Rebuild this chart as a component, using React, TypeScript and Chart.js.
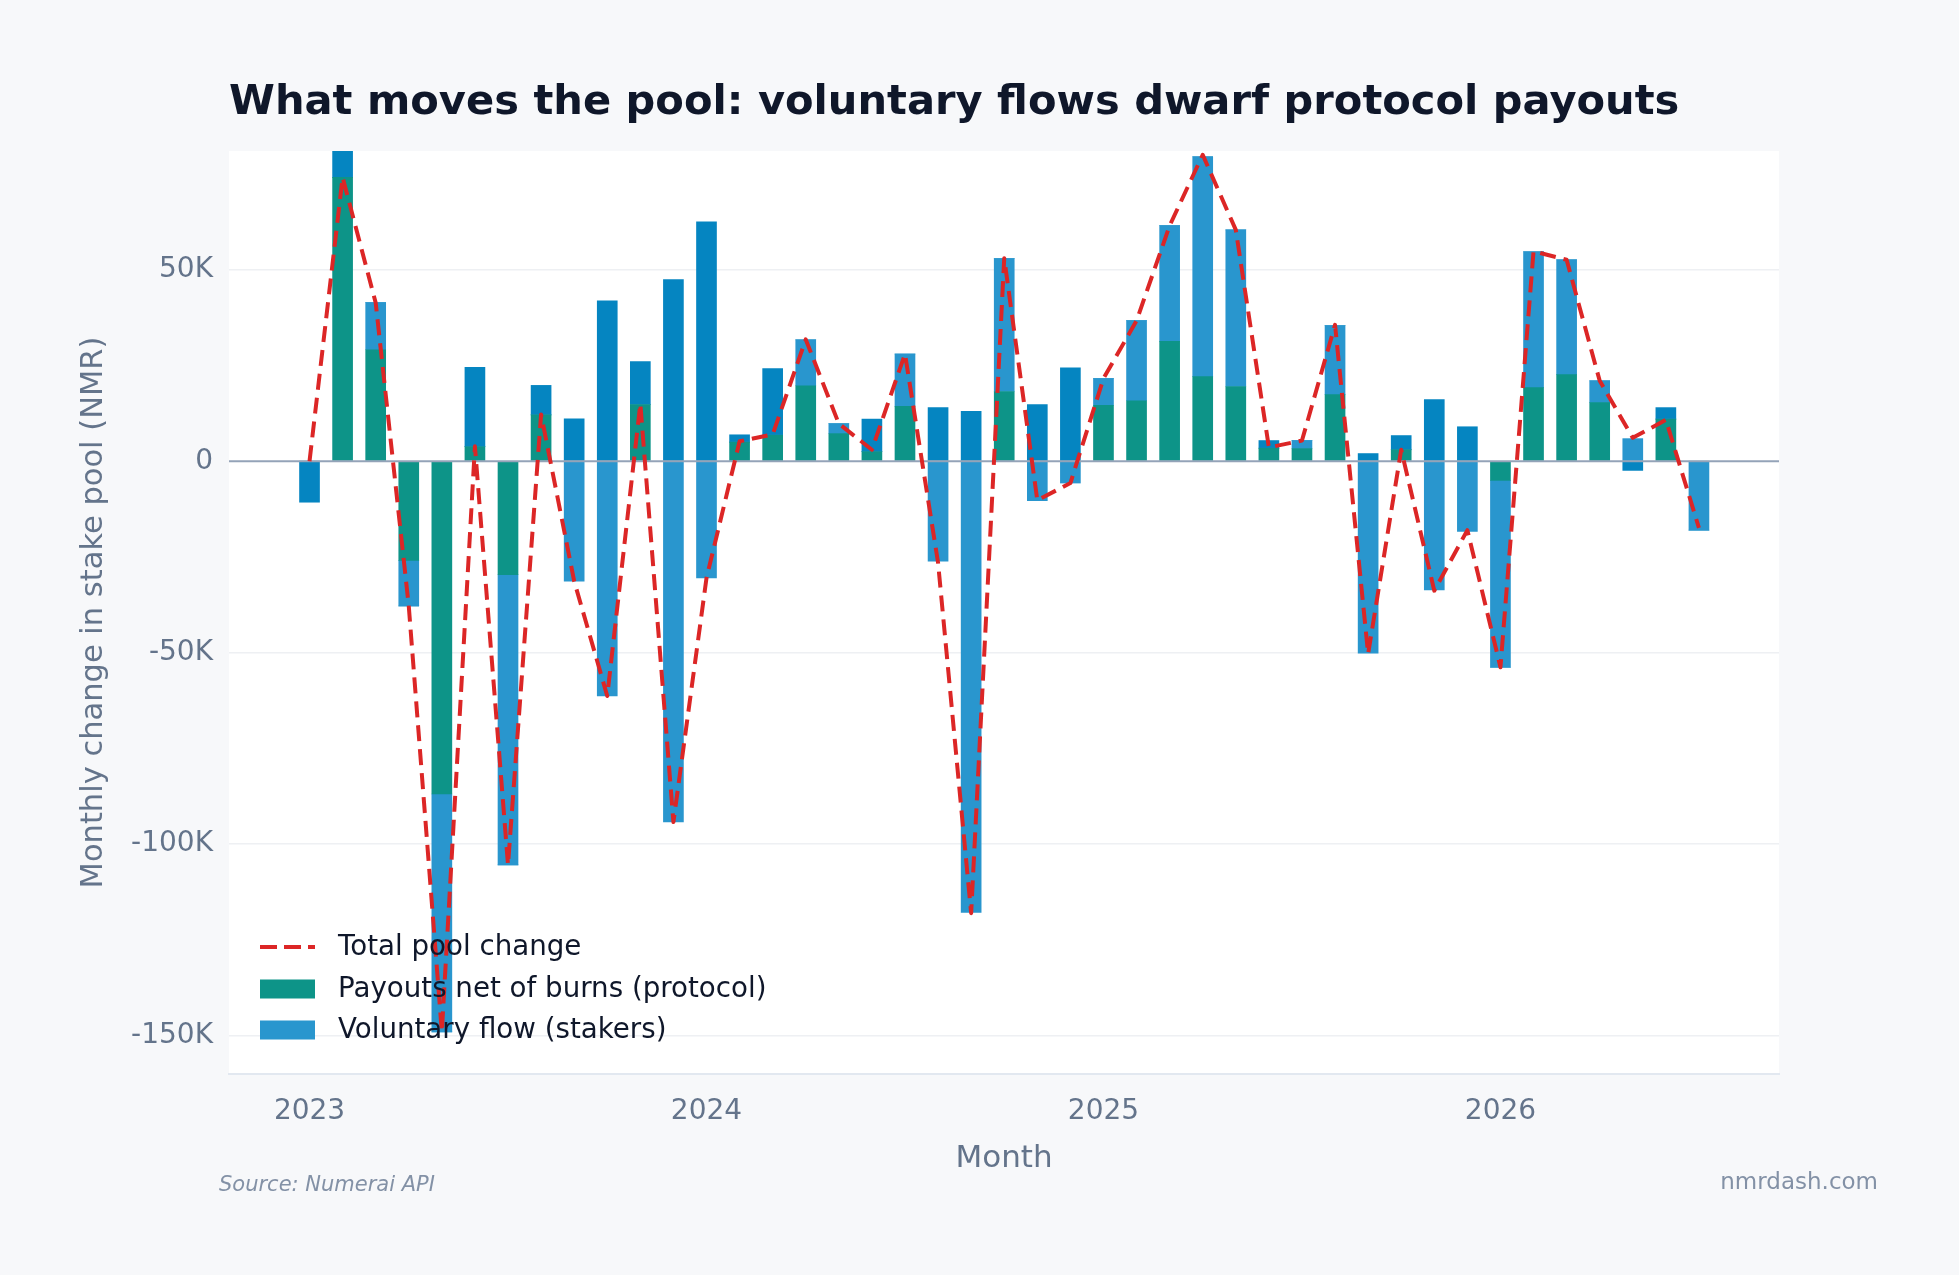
import React, { useEffect, useRef } from 'react';
import { Chart, registerables } from 'chart.js';

Chart.register(...registerables);

// ---- Data (values in thousands of NMR) ----
const months = [
  '2023-01', '2023-02', '2023-03', '2023-04', '2023-05', '2023-06', '2023-07', '2023-08', '2023-09', '2023-10', '2023-11', '2023-12',
  '2024-01', '2024-02', '2024-03', '2024-04', '2024-05', '2024-06', '2024-07', '2024-08', '2024-09', '2024-10', '2024-11', '2024-12',
  '2025-01', '2025-02', '2025-03', '2025-04', '2025-05', '2025-06', '2025-07', '2025-08', '2025-09', '2025-10', '2025-11', '2025-12',
  '2026-01', '2026-02', '2026-03', '2026-04', '2026-05', '2026-06', '2026-07',
];

const payoutsK = [
  0, 74.1, 29.1, -25.9, -86.9, 3.8, -29.6, 12.1, 0, 0, 14.8, 0,
  0, 5.0, 6.8, 19.7, 7.2, 2.5, 14.3, 0, 0, 18.2, 0, 0,
  14.6, 15.8, 31.3, 22.1, 19.5, 3.4, 3.3, 17.4, 0, 3.0, 0, 0,
  -5.0, 19.2, 22.6, 15.3, 0, 11.0, 0,
];

const voluntaryK = [
  0, 0, 12.3, -11.9, -62.1, 0, -75.8, 0, -31.3, -61.3, 0, -94.2,
  -30.5, 0, 0, 12.0, 2.6, 0, 13.7, -26.1, -117.8, 34.7, -10.3, -5.7,
  7.0, 20.9, 30.2, 57.4, 40.9, 0, 2.1, 18.0, -50.1, 0, -33.6, -18.3,
  -48.8, 35.5, 30.0, 5.7, 5.9, 0, -18.0,
];

const grossStakeK = [
  -10.7, 12.0, 0, 0, 0, 20.7, 0, 7.7, 11.1, 41.9, 11.2, 47.4,
  62.5, 1.9, 17.4, 0, 0, 8.5, 0, 14.0, 13.0, 0, 14.8, 24.4,
  0, 0, 0, 0, 0, 2.0, 0, 0, 2.0, 3.7, 16.1, 9.0,
  0, 0, 0, 0, -2.4, 3.0, 0,
];

const totalK = [
  0, 74.1, 41.4, -37.8, -149.0, 3.9, -105.4, 12.2, -31.3, -61.3, 15.0, -94.2,
  -30.5, 5.2, 7.0, 31.8, 9.8, 3.0, 28.0, -26.5, -118.0, 53.0, -10.2, -5.7,
  21.6, 36.7, 61.5, 80.0, 60.4, 3.6, 5.4, 35.6, -50.3, 3.0, -33.8, -18.0,
  -53.8, 54.8, 52.6, 21.0, 6.1, 10.8, -17.4,
];

const yTickValues = [-150000, -100000, -50000, 0, 50000];

const TITLE = 'What moves the pool: voluntary flows dwarf protocol payouts';
const SOURCE = 'Source: Numerai API';
const SITE = 'nmrdash.com';

const FONT = "'DejaVu Sans', 'Noto Sans', sans-serif";
const C_GREEN = '#0d9488';
const C_BLUE = '#2996ce';
const C_BLUE_DARK = '#0585c1';
const C_RED = '#dc2626';
const C_MUTED = '#64748b';
const C_DARK = '#0f172a';
const C_BG = '#f7f8fa';

const toPoints = (arr: number[]) => arr.map((v, i) => ({ x: i, y: v * 1000 }));

const W = 1959;
const H = 1275;

const App: React.FC = () => {
  const ref = useRef<HTMLCanvasElement | null>(null);

  useEffect(() => {
    document.body.style.margin = '0';
    document.body.style.background = C_BG;
    const canvas = ref.current;
    if (!canvas) return;

    const decorPlugin = {
      id: 'decor',
      beforeDraw(chart: any) {
        const { ctx, chartArea } = chart;
        ctx.save();
        ctx.fillStyle = C_BG;
        ctx.fillRect(0, 0, chart.width, chart.height);
        ctx.fillStyle = '#ffffff';
        ctx.fillRect(chartArea.left, chartArea.top, chartArea.right - chartArea.left, chartArea.bottom - chartArea.top);
        ctx.restore();
      },
      beforeDatasetDraw(chart: any, args: any) {
        if (args.index !== 0) return;
        const { ctx, chartArea } = chart;
        const y0 = chart.scales.y.getPixelForValue(0);
        ctx.save();
        ctx.strokeStyle = '#94a3b8';
        ctx.lineWidth = 2;
        ctx.beginPath();
        ctx.moveTo(chartArea.left, y0);
        ctx.lineTo(chartArea.right, y0);
        ctx.stroke();
        ctx.restore();
      },
      afterDraw(chart: any) {
        const { ctx, chartArea } = chart;
        const ds = chart.data.datasets;
        ctx.save();
        // Title
        ctx.fillStyle = C_DARK;
        ctx.font = `bold 41.6px ${FONT}`;
        ctx.textAlign = 'left';
        ctx.textBaseline = 'alphabetic';
        ctx.fillText(TITLE, chartArea.left, 114);

        // Legend
        const rows = [947, 989, 1030];
        const boxX = 260;
        const boxW = 55;
        const textX = 338;
        ctx.font = `27.7px ${FONT}`;
        ctx.textBaseline = 'middle';
        for (let i = 0; i < 3; i++) {
          const y = rows[i];
          const d = ds[i];
          if (i === 0) {
            ctx.strokeStyle = d.borderColor;
            ctx.lineWidth = 4;
            ctx.setLineDash([17, 7]);
            ctx.beginPath();
            ctx.moveTo(boxX, y);
            ctx.lineTo(boxX + boxW, y);
            ctx.stroke();
            ctx.setLineDash([]);
          } else {
            ctx.fillStyle = d.backgroundColor;
            ctx.fillRect(boxX, y - 9.5, boxW, 19);
          }
          ctx.fillStyle = C_DARK;
          ctx.fillText(d.label, textX, y + 1);
        }

        // Footer
        ctx.fillStyle = '#8391a6';
        ctx.font = `italic 21px ${FONT}`;
        ctx.textAlign = 'left';
        ctx.fillText(SOURCE, 219, 1186);
        ctx.font = `23px ${FONT}`;
        ctx.textAlign = 'right';
        ctx.fillText(SITE, 1878, 1183);
        ctx.restore();
      },
    };

    const chart = new Chart(canvas, {
      type: 'bar',
      data: {
        datasets: [
          {
            type: 'line',
            label: 'Total pool change',
            data: toPoints(totalK),
            borderColor: C_RED,
            backgroundColor: C_RED,
            borderWidth: 4,
            borderDash: [16, 8],
            borderJoinStyle: 'round',
            pointRadius: 0,
            tension: 0,
            fill: false,
            order: 0,
          } as any,
          {
            type: 'bar',
            label: 'Payouts net of burns (protocol)',
            data: toPoints(payoutsK),
            backgroundColor: C_GREEN,
            borderWidth: 0,
            barThickness: 20,
            order: 1,
          },
          {
            type: 'bar',
            label: 'Voluntary flow (stakers)',
            data: toPoints(voluntaryK),
            backgroundColor: C_BLUE,
            borderWidth: 0,
            barThickness: 20,
            order: 1,
          },
          {
            type: 'bar',
            label: 'Gross stake movement',
            data: toPoints(grossStakeK),
            backgroundColor: C_BLUE_DARK,
            borderWidth: 0,
            barThickness: 20,
            order: 1,
          },
        ],
      },
      options: {
        responsive: false,
        animation: false,
        layout: { padding: { top: 151, right: 180, bottom: 0, left: 0 } },
        plugins: {
          legend: { display: false },
          title: { display: false },
          tooltip: { enabled: false },
        },
        scales: {
          x: {
            type: 'linear',
            min: -2.434,
            max: 44.42,
            stacked: true,
            offset: false,
            grid: { display: false, drawTicks: false },
            border: { display: true, color: '#e2e8f0', width: 2 },
            afterBuildTicks: (scale: any) => {
              scale.ticks = months
                .map((m, i) => (m.endsWith('-01') ? { value: i } : null))
                .filter(Boolean);
            },
            afterFit: (scale: any) => {
              scale.height = 201;
            },
            ticks: {
              autoSkip: false,
              maxRotation: 0,
              color: C_MUTED,
              padding: 21,
              font: { family: FONT, size: 28 },
              callback: (v: any) => {
                const m = months[Math.round(Number(v))];
                return m ? m.slice(0, 4) : '';
              },
            },
            title: {
              display: true,
              text: 'Month',
              color: C_MUTED,
              font: { family: FONT, size: 31 },
              padding: { top: 0, bottom: 97 },
            },
          },
          y: {
            type: 'linear',
            min: -160000,
            max: 81000,
            stacked: true,
            afterBuildTicks: (scale: any) => {
              scale.ticks = yTickValues.map((v) => ({ value: v }));
            },
            afterFit: (scale: any) => {
              scale.width = 229;
            },
            grid: {
              drawTicks: false,
              color: (c: any) => (c.tick && c.tick.value === 0 ? 'rgba(0,0,0,0)' : '#eef0f3'),
              lineWidth: 1.5,
            },
            border: { display: false },
            ticks: {
              color: C_MUTED,
              padding: 16,
              font: { family: FONT, size: 28 },
              callback: (v: any) => (Number(v) === 0 ? '0' : `${Number(v) / 1000}K`),
            },
            title: {
              display: true,
              text: 'Monthly change in stake pool (NMR)',
              color: C_MUTED,
              font: { family: FONT, size: 30.5 },
              padding: { top: 76, bottom: 0 },
            },
          },
        },
      } as any,
      plugins: [decorPlugin],
    });

    return () => {
      chart.destroy();
    };
  }, []);

  return (
    <canvas
      ref={ref}
      width={W}
      height={H}
      style={{ display: 'block', width: W + 'px', height: H + 'px' }}
    />
  );
};

export default App;
